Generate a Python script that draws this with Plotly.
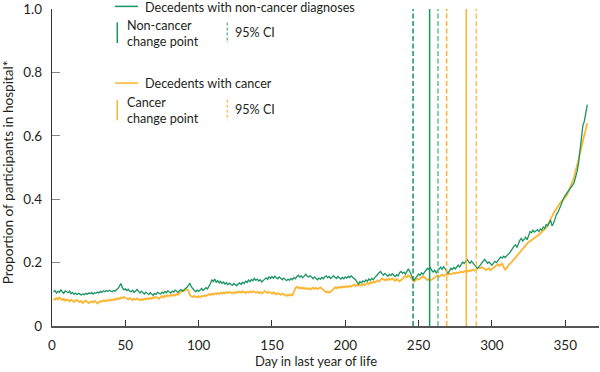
import plotly.graph_objects as go

# ---------------- data ----------------
non_cancer = [
    0.108,0.112,0.104,0.110,0.106,0.114,0.108,0.103,0.111,0.107,
    0.105,0.110,0.102,0.106,0.100,0.104,0.099,0.103,0.100,0.098,
    0.101,0.099,0.103,0.100,0.104,0.102,0.106,0.101,0.105,0.103,
    0.107,0.104,0.109,0.106,0.111,0.108,0.112,0.109,0.113,0.110,
    0.108,0.112,0.110,0.115,0.118,0.126,0.134,0.121,0.114,0.117,
    0.112,0.116,0.110,0.108,0.113,0.106,0.110,0.115,0.109,0.104,
    0.110,0.106,0.101,0.107,0.104,0.099,0.105,0.102,0.097,0.103,
    0.100,0.106,0.104,0.101,0.107,0.103,0.109,0.105,0.111,0.108,
    0.104,0.110,0.107,0.113,0.109,0.106,0.112,0.115,0.110,0.113,
    0.118,0.122,0.130,0.134,0.124,0.117,0.112,0.108,0.113,0.109,
    0.114,0.118,0.112,0.116,0.121,0.117,0.124,0.133,0.146,0.140,
    0.148,0.138,0.143,0.136,0.141,0.134,0.139,0.132,0.137,0.130,
    0.135,0.131,0.128,0.134,0.130,0.127,0.133,0.136,0.131,0.138,
    0.134,0.141,0.137,0.145,0.140,0.147,0.143,0.150,0.144,0.148,
    0.142,0.146,0.139,0.144,0.148,0.152,0.147,0.155,0.150,0.156,
    0.151,0.157,0.152,0.149,0.155,0.150,0.146,0.151,0.147,0.143,
    0.148,0.144,0.150,0.146,0.153,0.149,0.156,0.160,0.154,0.158,
    0.152,0.157,0.163,0.158,0.154,0.159,0.153,0.149,0.155,0.150,
    0.146,0.151,0.147,0.153,0.149,0.155,0.158,0.152,0.156,0.150,
    0.155,0.159,0.154,0.150,0.156,0.152,0.148,0.153,0.149,0.155,
    0.151,0.157,0.153,0.158,0.154,0.150,0.146,0.138,0.132,0.140,
    0.136,0.142,0.139,0.145,0.141,0.148,0.144,0.150,0.146,0.152,
    0.158,0.163,0.168,0.172,0.165,0.160,0.166,0.161,0.157,0.163,
    0.159,0.165,0.161,0.156,0.162,0.158,0.168,0.172,0.166,0.170,
    0.164,0.175,0.180,0.172,0.160,0.150,0.145,0.152,0.158,0.164,
    0.160,0.168,0.163,0.170,0.176,0.182,0.178,0.184,0.175,0.170,
    0.176,0.168,0.174,0.180,0.186,0.179,0.187,0.181,0.172,0.166,
    0.174,0.182,0.178,0.185,0.180,0.188,0.192,0.186,0.196,0.202,
    0.197,0.204,0.210,0.203,0.198,0.205,0.200,0.194,0.188,0.182,
    0.186,0.192,0.200,0.206,0.210,0.204,0.198,0.202,0.196,0.192,
    0.198,0.204,0.200,0.207,0.212,0.218,0.214,0.220,0.216,0.222,
    0.226,0.230,0.236,0.244,0.252,0.256,0.248,0.262,0.270,0.276,
    0.268,0.274,0.280,0.272,0.286,0.298,0.294,0.302,0.296,0.300,
    0.304,0.298,0.306,0.302,0.312,0.308,0.320,0.316,0.326,0.334,
    0.316,0.324,0.338,0.352,0.358,0.370,0.384,0.394,0.404,0.412,
    0.418,0.424,0.432,0.438,0.444,0.452,0.466,0.486,0.512,0.560,
    0.596,0.632,0.646,0.672,0.698,
]

cancer = [
    0.086,0.083,0.088,0.084,0.090,0.085,0.082,0.086,0.080,0.084,
    0.081,0.078,0.083,0.079,0.076,0.080,0.082,0.078,0.075,0.079,
    0.073,0.077,0.080,0.076,0.072,0.075,0.078,0.074,0.079,0.076,
    0.071,0.075,0.079,0.077,0.081,0.078,0.082,0.079,0.083,0.080,
    0.084,0.081,0.086,0.083,0.088,0.085,0.090,0.087,0.092,0.089,
    0.086,0.084,0.088,0.085,0.082,0.086,0.083,0.087,0.084,0.081,
    0.085,0.082,0.086,0.083,0.088,0.085,0.089,0.086,0.091,0.088,
    0.092,0.089,0.086,0.091,0.094,0.090,0.096,0.093,0.097,0.094,
    0.098,0.095,0.099,0.096,0.101,0.098,0.104,0.108,0.112,0.110,
    0.114,0.116,0.112,0.098,0.094,0.091,0.095,0.092,0.090,0.094,
    0.091,0.095,0.093,0.097,0.094,0.098,0.101,0.097,0.102,0.099,
    0.103,0.100,0.104,0.101,0.105,0.102,0.106,0.103,0.107,0.104,
    0.108,0.105,0.103,0.107,0.104,0.108,0.106,0.109,0.105,0.110,
    0.107,0.104,0.108,0.105,0.109,0.106,0.110,0.107,0.105,0.108,
    0.104,0.107,0.103,0.106,0.110,0.107,0.104,0.108,0.105,0.102,
    0.106,0.103,0.100,0.104,0.101,0.098,0.102,0.099,0.097,0.095,
    0.099,0.096,0.100,0.097,0.108,0.120,0.124,0.119,0.122,0.118,
    0.121,0.117,0.120,0.116,0.119,0.115,0.118,0.121,0.117,0.120,
    0.116,0.119,0.122,0.118,0.114,0.110,0.106,0.109,0.105,0.108,
    0.112,0.118,0.122,0.119,0.123,0.120,0.124,0.121,0.125,0.122,
    0.126,0.123,0.127,0.124,0.128,0.131,0.126,0.130,0.127,0.131,
    0.128,0.132,0.129,0.133,0.136,0.132,0.138,0.135,0.140,0.137,
    0.141,0.144,0.140,0.146,0.150,0.147,0.144,0.148,0.145,0.149,
    0.146,0.150,0.147,0.143,0.148,0.144,0.141,0.145,0.150,0.155,
    0.158,0.154,0.160,0.156,0.150,0.144,0.140,0.145,0.149,0.146,
    0.150,0.154,0.157,0.153,0.149,0.145,0.148,0.144,0.147,0.150,
    0.154,0.157,0.160,0.156,0.159,0.162,0.158,0.161,0.164,0.162,
    0.165,0.163,0.166,0.168,0.165,0.169,0.167,0.170,0.172,0.169,
    0.172,0.174,0.171,0.175,0.173,0.176,0.178,0.175,0.179,0.181,
    0.184,0.182,0.186,0.183,0.180,0.177,0.179,0.182,0.176,0.180,
    0.184,0.188,0.192,0.195,0.190,0.193,0.197,0.186,0.178,0.182,
    0.190,0.196,0.199,0.204,0.210,0.216,0.222,0.226,0.232,0.238,
    0.244,0.250,0.256,0.260,0.264,0.268,0.272,0.275,0.278,0.282,
    0.285,0.288,0.292,0.296,0.300,0.304,0.310,0.318,0.326,0.336,
    0.346,0.356,0.362,0.370,0.378,0.386,0.392,0.396,0.400,0.406,
    0.412,0.422,0.432,0.444,0.456,0.470,0.486,0.504,0.524,0.546,
    0.566,0.586,0.604,0.622,0.640,
]

days = list(range(1, len(non_cancer) + 1))

# change points: (lower CI, change point, upper CI)
non_cancer_cp = [246.2, 257.5, 263.2]
cancer_cp = [269.1, 282.5, 289.3]

x_ticks = [0, 50, 100, 150, 200, 250, 300, 350]
y_ticks = [0, 0.2, 0.4, 0.6, 0.8, 1.0]
y_tick_text = ["0", "0.2", "0.4", "0.6", "0.8", "1.0"]

GREEN = "#1a9462"
GREEN_LIGHT = "#62bf97"
ORANGE = "#fdb531"
ORANGE_LIGHT = "#fdc25a"
FONT = "Lato"
TXT = "#231f20"

fig = go.Figure()
fig.add_trace(go.Scatter(x=days, y=cancer, mode="lines",
                         line=dict(color=ORANGE, width=1.8), showlegend=False,
                         hoverinfo="skip"))
fig.add_trace(go.Scatter(x=days, y=non_cancer, mode="lines",
                         line=dict(color=GREEN, width=1.3), showlegend=False,
                         hoverinfo="skip"))

DASH = "5px,2.5px"
shapes = []
# vertical change point lines
for x, col, dash in [(non_cancer_cp[0], GREEN, DASH), (non_cancer_cp[1], GREEN, "solid"),
                     (non_cancer_cp[2], GREEN_LIGHT, DASH), (cancer_cp[0], ORANGE, DASH),
                     (cancer_cp[1], ORANGE, "solid"), (cancer_cp[2], ORANGE_LIGHT, DASH)]:
    shapes.append(dict(type="line", xref="x", yref="y", x0=x, x1=x, y0=0, y1=1.0,
                       line=dict(color=col, width=1.5, dash=dash), layer="above"))

# custom legend (pixel -> paper conversion)
L, R, T, B = 52, 599, 9.3, 326
def px(X):
    return (X - L) / (R - L)
def py(Y):
    return (B - Y) / (B - T)

def hline(x0, x1, y, col):
    shapes.append(dict(type="line", xref="paper", yref="paper", x0=px(x0), x1=px(x1),
                       y0=py(y), y1=py(y), line=dict(color=col, width=1.5)))
def vline(x, y0, y1, col, dash="solid"):
    shapes.append(dict(type="line", xref="paper", yref="paper", x0=px(x), x1=px(x),
                       y0=py(y0), y1=py(y1), line=dict(color=col, width=1.5, dash=dash)))

hline(115, 138, 6.7, GREEN)
vline(117.3, 22.7, 43.3, GREEN)
vline(227.3, 22.7, 43.3, GREEN_LIGHT, "3px,2px")
hline(115, 138, 83.3, ORANGE)
vline(117.3, 100, 120.5, ORANGE)
vline(227.3, 100, 120.5, ORANGE_LIGHT, "3px,2px")

annotations = []
def label(x, y, text, size=12.6):
    annotations.append(dict(xref="paper", yref="paper", x=px(x), y=py(y), text=text,
                            showarrow=False, xanchor="left", yanchor="middle",
                            align="left", font=dict(family=FONT, size=size, color=TXT)))

label(143, 7.4, "Decedents with non-cancer diagnoses")
label(125, 34, "Non-cancer<br>change point")
label(233, 33, "95% CI")
label(143, 83.3, "Decedents with cancer")
label(125, 111, "Cancer<br>change point")
label(233, 109.5, "95% CI")

# axis titles
annotations.append(dict(xref="paper", yref="paper", x=px(316), y=py(361),
                        text="Day in last year of life", showarrow=False,
                        xanchor="center", yanchor="middle",
                        font=dict(family=FONT, size=13, color=TXT)))
annotations.append(dict(xref="paper", yref="paper", x=px(8), y=py(172.5),
                        text="Proportion of participants in hospital*", showarrow=False,
                        xanchor="center", yanchor="middle", textangle=-90,
                        font=dict(family=FONT, size=13.6, color=TXT)))

fig.update_layout(
    width=600, height=372,
    margin=dict(l=L, r=600 - R, t=T, b=372 - B),
    paper_bgcolor="white", plot_bgcolor="white",
    font=dict(family=FONT, size=13, color=TXT),
    shapes=shapes, annotations=annotations, showlegend=False,
)
fig.update_xaxes(range=[0, 373], tickvals=x_ticks, ticks="inside", ticklen=6,
                 tickcolor="#333", tickwidth=1.2, showgrid=False, zeroline=False,
                 showline=True, linecolor="#555", linewidth=1.6,
                 ticklabelstandoff=6, automargin=False,
                 tickfont=dict(family=FONT, size=13.5, color=TXT))
fig.update_yaxes(range=[0, 1.0], tickvals=y_ticks, ticktext=y_tick_text, ticks="inside",
                 ticklen=8, tickcolor="#888", tickwidth=1.2, showgrid=False, zeroline=False,
                 showline=True, linecolor="#333", linewidth=1.3,
                 ticklabelstandoff=6, automargin=False,
                 tickfont=dict(family=FONT, size=13.5, color=TXT))

fig.write_html("out.html", config={"displayModeBar": False},
               post_script="document.body.style.margin='0';document.body.style.overflow='hidden';")
